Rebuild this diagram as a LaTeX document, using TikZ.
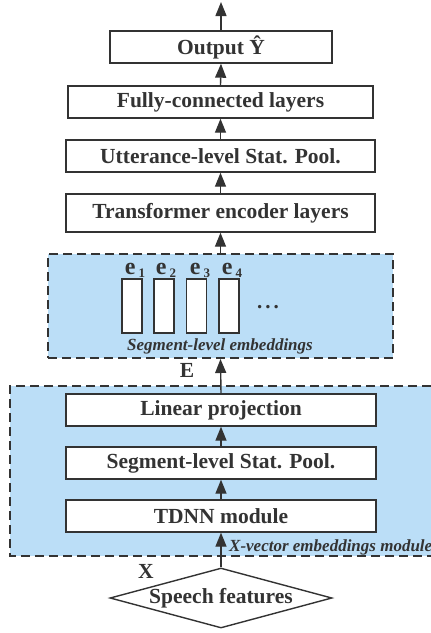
\documentclass[tikz,border=0pt]{standalone}
\usepackage{fontspec}
\setmainfont{Liberation Serif}
\usetikzlibrary{arrows.meta,shapes.geometric}
\definecolor{ink}{HTML}{333333}
\definecolor{modfill}{HTML}{BBDEF7}
\tikzset{
  layer/.style={draw=ink, line width=1.4pt, fill=white, inner sep=0pt,
    text=ink, font=\fontsize{21.5}{24}\selectfont\bfseries},
  vecbox/.style={draw=ink, line width=1.4pt, fill=white, inner sep=0pt,
    minimum width=20pt, minimum height=54pt},
  region/.style={fill=modfill},
  regionline/.style={draw=ink, line width=2pt, dash pattern=on 9pt off 5pt},
  flow/.style={draw=ink, line width=1.4pt, -{Triangle[length=14pt,width=11pt]}},
  caption/.style={text=ink, font=\fontsize{17}{19}\selectfont\bfseries\itshape, inner sep=0pt},
  symb/.style={text=ink, font=\fontsize{21.5}{24}\selectfont\bfseries, inner sep=0pt},
}
\newcommand{\evec}[1]{{\fontsize{24}{24}\selectfont\textbf{e}}\kern3pt\raisebox{-3pt}{\fontsize{13}{13}\selectfont #1}}
\begin{document}
\begin{tikzpicture}[x=1pt,y=-1pt]
\useasboundingbox (0,0) rectangle (431,633);

% background of the two modules
\fill[region] (10,386) rectangle (431,556);
\draw[regionline] (431,386) -- (10,386) -- (10,556) -- (431,556);
\node[regionline, region, inner sep=0pt, minimum width=345pt, minimum height=104pt] (seg) at (220.5,306) {};

% upper stack
\node[layer, minimum width=222pt, minimum height=32pt] (out) at (221,47) {Output Ŷ};
\node[layer, minimum width=305pt, minimum height=32pt] (fc) at (220.5,102) {Fully-connected layers};
\node[layer, minimum width=309pt, minimum height=32pt] (utt) at (220.5,156) {Utterance-level Stat. Pool.};
\node[layer, minimum width=309pt, minimum height=38pt] (tfm) at (220.5,213) {Transformer encoder layers};

% segment-level embedding vectors
\node[vecbox] (v1) at (132,306) {};
\node[vecbox] (v2) at (164,306) {};
\node[vecbox] (v3) at (196.5,306) {};
\node[vecbox] (v4) at (229,306) {};
\node[symb, anchor=base] (l1) at (135,274) {\evec{1}};
\node[symb, anchor=base] (l2) at (166,274) {\evec{2}};
\node[symb, anchor=base] (l3) at (200,274) {\evec{3}};
\node[symb, anchor=base] (l4) at (232,274) {\evec{4}};
\node[text=ink, font=\fontsize{21}{24}\selectfont\bfseries, anchor=base, inner sep=0pt] (dots) at (268,308) {.\kern3pt.\kern3pt.};
\node[caption] (segcap) at (220,346) {Segment-level embeddings};

% x-vector module
\node[layer, minimum width=310pt, minimum height=32pt] (lin) at (221,410) {Linear projection};
\node[layer, minimum width=310pt, minimum height=32pt] (ssp) at (221,463) {Segment-level Stat. Pool.};
\node[layer, minimum width=310pt, minimum height=32pt] (tdnn) at (221,516) {TDNN module};
\node[caption, anchor=west] (xcap) at (229,547) {X-vector embeddings module};

% input
\node[diamond, draw=ink, line width=1.4pt, fill=white, inner sep=0pt, aspect=3.7,
  minimum width=222pt, minimum height=60pt, text=ink,
  font=\fontsize{21.5}{24}\selectfont\bfseries] (feat) at (221,598) {Speech features};

% symbols on connectors
\node[symb] (E) at (187,370) {E};
\node[symb] (X) at (146,571) {X};

% data flow
\coordinate (top) at (221,2);
\draw[flow] (out.north) -- (top);
\draw[flow] (fc.north) -- (out.south);
\draw[flow] (utt.north) -- (fc.south);
\draw[flow] (tfm.north) -- (utt.south);
\draw[flow] (seg.north) -- (tfm.south);
\draw[flow] (lin.north) -- (seg.south);
\draw[flow] (ssp.north) -- (lin.south);
\draw[flow] (tdnn.north) -- (ssp.south);
\draw[flow] (feat.north) -- (tdnn.south);
\end{tikzpicture}
\end{document}
